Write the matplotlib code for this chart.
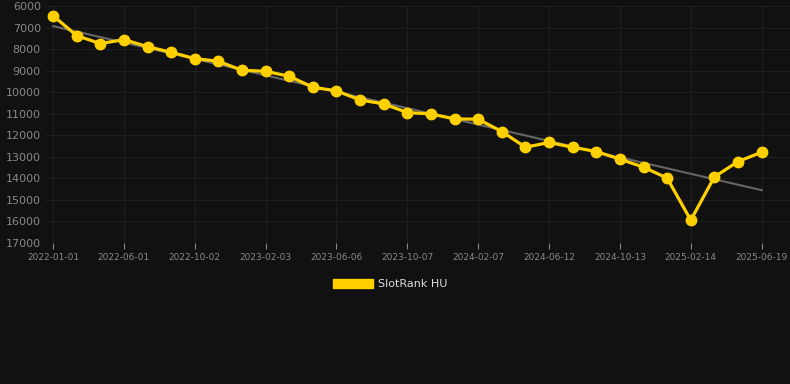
import matplotlib
matplotlib.use("Agg")
import matplotlib.pyplot as plt
import numpy as np
from matplotlib.patches import Patch

tick_labels = ["2022-01-01", "2022-06-01", "2022-10-02", "2023-02-03", "2023-06-06",
               "2023-10-07", "2024-02-07", "2024-06-12", "2024-10-13", "2025-02-14", "2025-06-19"]
ranks = [6450, 7375, 7745, 7560, 7885, 8150, 8440, 8565, 8985, 9030,
         9260, 9770, 9940, 10360, 10545, 10945, 11010, 11240, 11255, 11825,
         12555, 12335, 12555, 12755, 13110, 13480, 13990, 15940, 13930, 13220,
         12785]
series_name = "SlotRank HU"

BG = "#111111"
GOLD = "#ffd000"

fig = plt.figure(figsize=(7.9, 3.84), dpi=100, facecolor=BG)
ax = fig.add_axes([45 / 790, 141 / 384, 745 / 790, 237 / 384], facecolor=BG)

x = np.arange(len(ranks))
slope, intercept = np.polyfit(x, ranks, 1)
ax.plot(x, slope * x + intercept, color="#666666", linewidth=1.5, zorder=2)
ax.plot(x, ranks, color=GOLD, linewidth=2.3, marker="o", markersize=7.5, zorder=3)

ax.set_ylim(17000, 6000)
ax.set_yticks(np.arange(6000, 17001, 1000))
ax.set_xlim(-0.34, 31.2)
ax.set_xticks(x[::3])
ax.set_xticklabels(tick_labels)

ax.grid(True, color="#1e1e1e", linewidth=0.8)
ax.set_axisbelow(True)
for side in ax.spines.values():
    side.set_visible(False)
ax.tick_params(axis="y", colors="#888888", labelsize=8, length=0, pad=3)
ax.tick_params(axis="x", colors="#888888", labelsize=6.5, length=4, width=0.8, pad=3)
for t in ax.xaxis.get_ticklines():
    t.set_color("#222222")

fig.legend(handles=[Patch(facecolor=GOLD, edgecolor=GOLD)], labels=[series_name],
           loc="center", bbox_to_anchor=(0.5 - 5 / 790, 1 - 284 / 384), frameon=False,
           handlelength=3.6, handleheight=0.9, fontsize=8, labelcolor="#dddddd",
           handletextpad=0.5)

fig.savefig("out.png", dpi=100, facecolor=BG)
